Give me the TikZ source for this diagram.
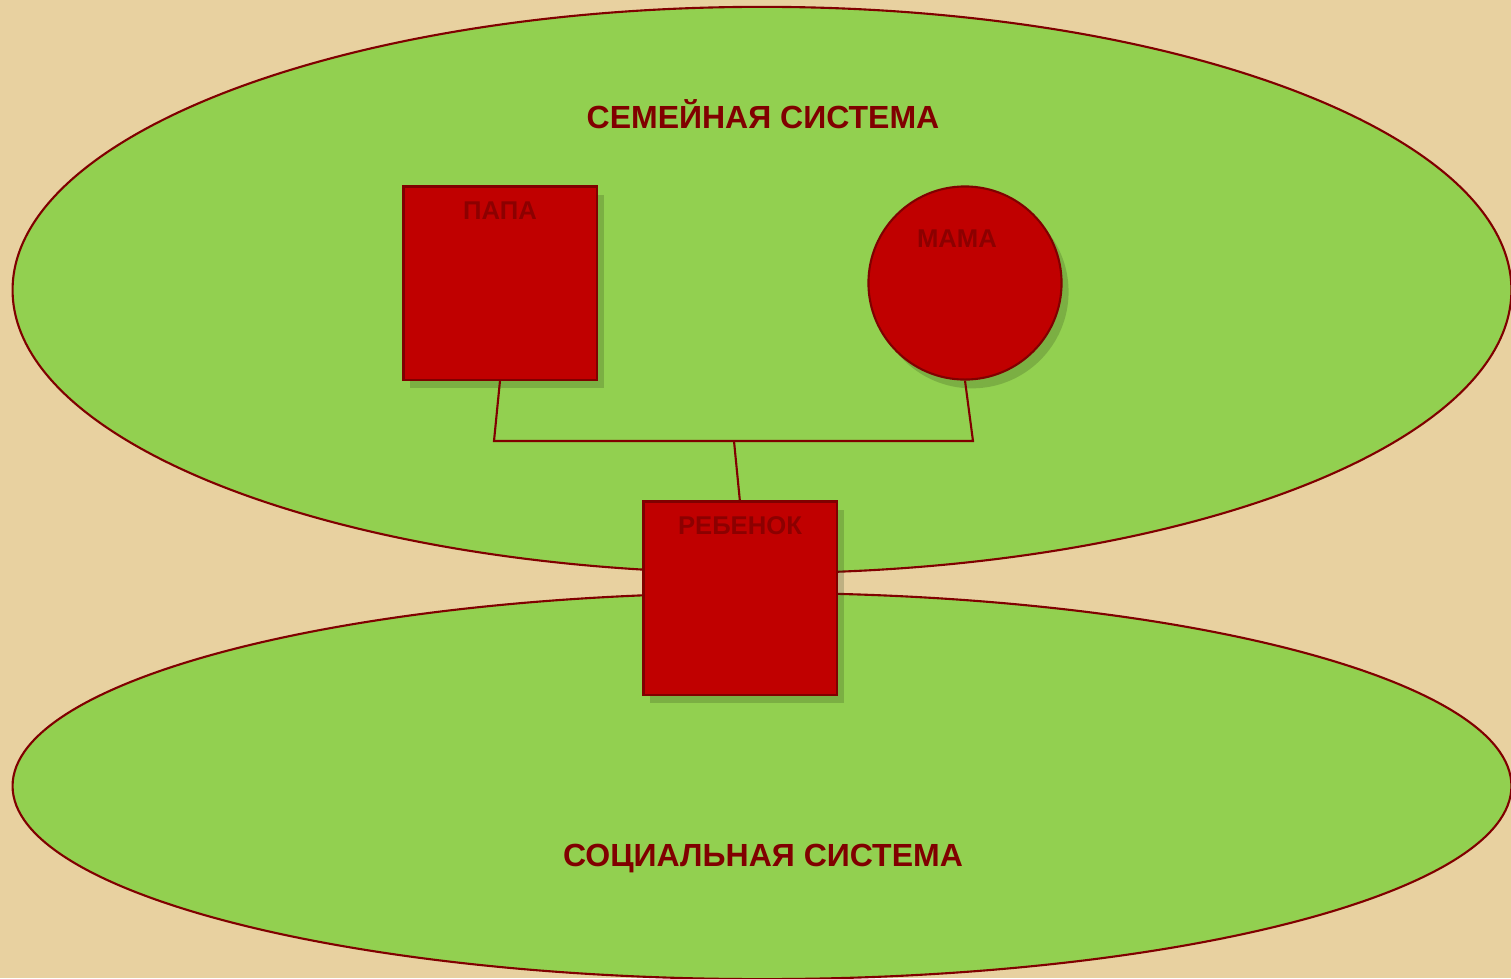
\documentclass[tikz,border=0pt]{standalone}
\usepackage{fontspec}
\setmainfont{Liberation Sans}
\usetikzlibrary{positioning, shadows}

\definecolor{paper}{RGB}{232,209,160}
\definecolor{leaf}{RGB}{146,208,80}
\definecolor{blood}{RGB}{192,0,0}
\definecolor{rim}{RGB}{128,0,0}
\definecolor{inkdark}{RGB}{140,0,0}

\begin{document}
\begin{tikzpicture}[x=0.01cm, y=-0.01cm,
        system/.style={fill=leaf, draw=rim, line width=0.6pt},
        member/.style={fill=blood, draw=rim, line width=0.6pt, minimum size=1.93cm, inner sep=0pt,
            drop shadow={shadow xshift=2pt, shadow yshift=-2.5pt, opacity=0.22, fill=black!70!leaf}},
        tag/.style={font=\bfseries\fontsize{7.3}{9}\selectfont, text=inkdark},
        title/.style={font=\bfseries\fontsize{9.1}{11}\selectfont, text=rim},
        link/.style={draw=rim, line width=0.6pt}]
        \useasboundingbox (0,0) rectangle (1511,978);
        \clip (0,0) rectangle (1511,978);
        \fill[paper] (0,0) rectangle (1511,978);

        % the two systems
        \draw[system] (762,786) ellipse [x radius=7.49cm, y radius=1.93cm];
        \draw[system] (762,290) ellipse [x radius=7.49cm, y radius=2.83cm];

        \node[title] (family) at (763,114) {СЕМЕЙНАЯ СИСТЕМА};
        \node[title] (social) at (763,859) {СОЦИАЛЬНАЯ СИСТЕМА};

        \node[member, rectangle] (papa) at (500,283) {};
        \node[member, circle] (mama) at (965,283) {};
        \node[tag] (papatag) at (500,211) {ПАПА};
        \node[tag] (mamatag) at (957,239) {МАМА};

        \coordinate (jl) at (494,441);
        \coordinate (jr) at (973,441);
        \coordinate (jm) at (734,441);

        \draw[link] (papa.south) -- (jl) -- (jr) -- (mama.south);
        \draw[link] (jm) -- (740,502);

        \node[member, rectangle] (child) at (740,598) {};
        \node[tag] (childtag) at (740,526) {РЕБЕНОК};
    \end{tikzpicture}
\end{document}
